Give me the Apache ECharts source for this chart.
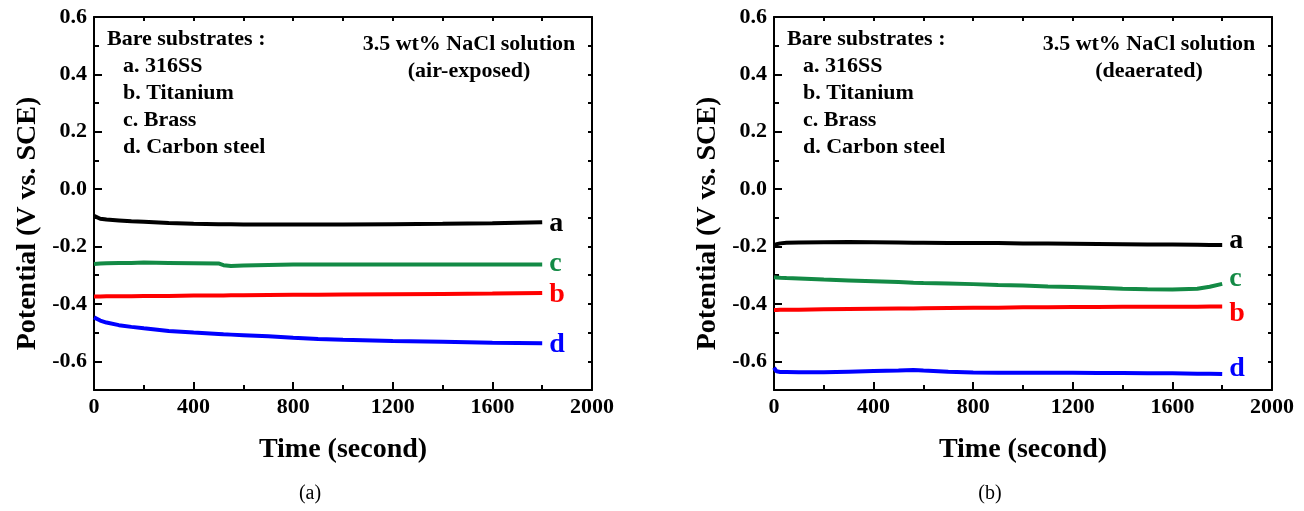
<!DOCTYPE html>
<html lang="en">
<head>
    <meta charset="UTF-8">
    <title>Open circuit potential vs time, bare substrates in 3.5 wt% NaCl</title>
    <script src="https://cdn.jsdelivr.net/npm/echarts@6/dist/echarts.min.js"></script>
    <style>
        body { margin: 0; padding: 0; background: #fff; }
        #main { width: 1304px; height: 511px; }
    </style>
</head>
<body>
    <div id="main"></div>
    <script type="text/javascript">
        // (a) air-exposed
        var timeA = [0, 25, 50, 100, 150, 200, 300, 400, 500, 520, 550, 600, 700, 800, 900, 1000, 1200, 1400, 1600, 1700, 1800];
        var airSS  = [-0.093, -0.103, -0.106, -0.109, -0.112, -0.114, -0.118, -0.121, -0.122, -0.122, -0.122, -0.123, -0.123, -0.123, -0.123, -0.123, -0.122, -0.121, -0.119, -0.117, -0.115];
        var airTi  = [-0.374, -0.374, -0.373, -0.373, -0.373, -0.372, -0.372, -0.371, -0.371, -0.371, -0.370, -0.370, -0.369, -0.368, -0.368, -0.367, -0.366, -0.365, -0.364, -0.363, -0.362];
        var airBr  = [-0.261, -0.259, -0.258, -0.257, -0.257, -0.256, -0.257, -0.258, -0.259, -0.265, -0.268, -0.266, -0.264, -0.263, -0.263, -0.263, -0.263, -0.263, -0.263, -0.263, -0.263];
        var airCS  = [-0.447, -0.458, -0.465, -0.474, -0.480, -0.485, -0.494, -0.500, -0.505, -0.506, -0.507, -0.509, -0.513, -0.518, -0.522, -0.525, -0.529, -0.532, -0.535, -0.536, -0.537];

        // (b) deaerated
        var timeB = [0, 10, 25, 50, 100, 200, 300, 400, 500, 560, 600, 700, 800, 900, 1000, 1100, 1200, 1300, 1400, 1500, 1600, 1700, 1750, 1800];
        var deaSS  = [-0.197, -0.192, -0.189, -0.187, -0.186, -0.185, -0.184, -0.185, -0.186, -0.187, -0.187, -0.188, -0.188, -0.188, -0.189, -0.189, -0.190, -0.191, -0.192, -0.193, -0.193, -0.194, -0.195, -0.195];
        var deaTi  = [-0.421, -0.421, -0.420, -0.420, -0.420, -0.419, -0.418, -0.417, -0.416, -0.416, -0.415, -0.414, -0.413, -0.413, -0.412, -0.412, -0.411, -0.411, -0.410, -0.410, -0.410, -0.410, -0.409, -0.409];
        var deaBr  = [-0.307, -0.308, -0.309, -0.310, -0.311, -0.315, -0.318, -0.321, -0.324, -0.326, -0.327, -0.329, -0.331, -0.334, -0.336, -0.339, -0.341, -0.344, -0.347, -0.349, -0.350, -0.347, -0.340, -0.330];
        var deaCS  = [-0.622, -0.635, -0.637, -0.637, -0.638, -0.638, -0.636, -0.634, -0.632, -0.630, -0.632, -0.636, -0.639, -0.640, -0.640, -0.640, -0.640, -0.641, -0.641, -0.642, -0.642, -0.643, -0.643, -0.644];

        var yMajor = [-0.6, -0.4, -0.2, 0, 0.2, 0.4, 0.6];
        var yMinor = [-0.5, -0.3, -0.1, 0.1, 0.3, 0.5];
        var legendLines = ['a. 316SS', 'b. Titanium', 'c. Brass', 'd. Carbon steel'];
        var conditions = ['(air-exposed)', '(deaerated)'];
        var panelTags = ['(a)', '(b)'];

        var FONT = '"Liberation Serif", "Times New Roman", serif';
        var colors = { a: '#000000', b: '#ff0000', c: '#138a45', d: '#0000ff' };

        var chart = echarts.init(document.getElementById('main'));

        var grids = [
            { left: 94, top: 17, width: 498, height: 373 },
            { left: 774, top: 17, width: 498, height: 373 }
        ];

        function pairs(t, v) {
            return t.map(function (x, i) { return [x, v[i]]; });
        }

        var xAxes = [], yAxes = [], series = [], graphics = [];

        [0, 1].forEach(function (g) {
            // bottom x axis
            xAxes.push({
                gridIndex: g, type: 'value', min: 0, max: 2000, interval: 400,
                name: 'Time (second)', nameLocation: 'middle', nameGap: 46,
                nameTextStyle: { fontFamily: FONT, fontWeight: 'bold', fontSize: 28, color: '#000' },
                axisLine: { onZero: false, lineStyle: { color: '#000', width: 2 } },
                axisTick: { inside: true, length: 8, lineStyle: { width: 2, color: '#000' } },
                minorTick: { show: true, splitNumber: 2, length: 5, lineStyle: { width: 2, color: '#000' } },
                axisLabel: {
                    fontFamily: FONT, fontWeight: 'bold', fontSize: 22, color: '#000', margin: 6,
                    formatter: function (v) { return String(v); }
                },
                splitLine: { show: false }
            });
            // top x axis (ticks only)
            xAxes.push({
                gridIndex: g, type: 'value', position: 'top', min: 0, max: 2000, interval: 200,
                axisLine: { onZero: false, lineStyle: { color: '#000', width: 2 } },
                axisTick: { inside: true, length: 4, lineStyle: { width: 2, color: '#000' } },
                axisLabel: { show: false }, splitLine: { show: false }
            });
            // left y axis with major ticks and labels
            yAxes.push({
                gridIndex: g, type: 'value', min: -0.7, max: 0.6, interval: 0.1,
                name: 'Potential (V vs. SCE)', nameLocation: 'middle', nameGap: 52,
                nameTextStyle: { fontFamily: FONT, fontWeight: 'bold', fontSize: 28, color: '#000', padding: [0, 40, 0, 0] },
                axisLine: { onZero: false, lineStyle: { color: '#000', width: 2 } },
                axisTick: { inside: true, length: 8, customValues: yMajor, lineStyle: { width: 2, color: '#000' } },
                axisLabel: {
                    customValues: yMajor, fontFamily: FONT, fontWeight: 'bold', fontSize: 22, color: '#000', margin: 7,
                    formatter: function (v) { return v.toFixed(1); }
                },
                splitLine: { show: false }
            });
            // left y axis minor ticks
            yAxes.push({
                gridIndex: g, type: 'value', position: 'left', min: -0.7, max: 0.6, interval: 0.1,
                axisLine: { show: false, onZero: false },
                axisTick: { inside: true, length: 5, customValues: yMinor, lineStyle: { width: 2, color: '#000' } },
                axisLabel: { show: false }, splitLine: { show: false }
            });
            // right y axis (ticks only)
            yAxes.push({
                gridIndex: g, type: 'value', position: 'right', min: -0.7, max: 0.6, interval: 0.1,
                axisLine: { show: true, onZero: false, lineStyle: { color: '#000', width: 2 } },
                axisTick: { show: true, inside: true, length: 4, lineStyle: { width: 2, color: '#000' } },
                axisLabel: { show: false }, splitLine: { show: false }
            });

            var gl = grids[g].left;
            graphics.push({
                type: 'text', left: gl + 13, top: 28,
                style: { text: 'Bare substrates :', font: 'bold 22px ' + FONT, fill: '#000' }
            });
            legendLines.forEach(function (s, i) {
                graphics.push({
                    type: 'text', left: gl + 29, top: 55 + i * 27,
                    style: { text: s, font: 'bold 22px ' + FONT, fill: '#000' }
                });
            });
            graphics.push({
                type: 'text', x: gl + 375, y: 44,
                style: { text: '3.5 wt% NaCl solution', font: 'bold 22px ' + FONT, fill: '#000', align: 'center', verticalAlign: 'middle' }
            });
            graphics.push({
                type: 'text', x: gl + 375, y: 71,
                style: { text: conditions[g], font: 'bold 22px ' + FONT, fill: '#000', align: 'center', verticalAlign: 'middle' }
            });
            graphics.push({
                type: 'text', x: gl + 216, y: 494,
                style: { text: panelTags[g], font: '20px ' + FONT, fill: '#000', align: 'center', verticalAlign: 'middle' }
            });
        });

        function addSeries(g, t, v, key, offset) {
            series.push({
                type: 'line', xAxisIndex: g * 2, yAxisIndex: g * 3,
                data: pairs(t, v), showSymbol: false, animation: false,
                lineStyle: { color: colors[key], width: 4 },
                endLabel: {
                    show: true, formatter: key, distance: 7, offset: offset,
                    fontFamily: FONT, fontWeight: 'bold', fontSize: 28, color: colors[key]
                }
            });
        }

        addSeries(0, timeA, airSS, 'a', [0, 2]);
        addSeries(0, timeA, airBr, 'c', [0, -1]);
        addSeries(0, timeA, airTi, 'b', [0, 2]);
        addSeries(0, timeA, airCS, 'd', [0, 2]);
        addSeries(1, timeB, deaSS, 'a', [0, -4]);
        addSeries(1, timeB, deaBr, 'c', [0, -5]);
        addSeries(1, timeB, deaTi, 'b', [0, 7]);
        addSeries(1, timeB, deaCS, 'd', [0, -5]);

        chart.setOption({
            animation: false,
            grid: grids,
            xAxis: xAxes,
            yAxis: yAxes,
            series: series,
            graphic: graphics
        });
    </script>
</body>
</html>
